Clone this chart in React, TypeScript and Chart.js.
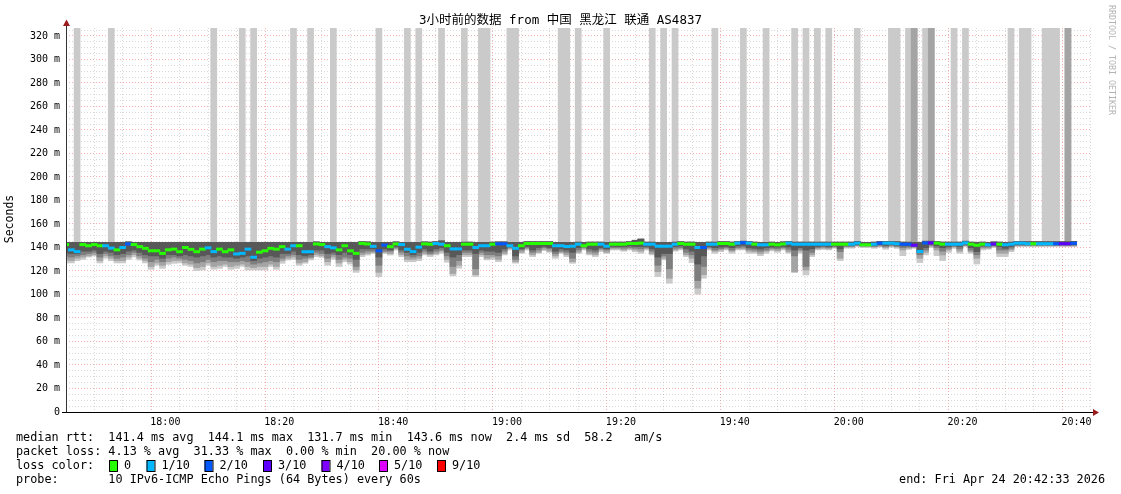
import React, { useEffect, useRef } from 'react';
import { Chart, registerables } from 'chart.js';

Chart.register(...registerables);

// x axis unit: minutes after 17:42:00. Window 17:42:33 .. 20:42:33 (3 hours)
const X_MIN = 0.55;
const X_MAX = 180.55;
const Y_MAX = 326.8;

const TITLE = '3小时前的数据 from 中国 黑龙江 联通 AS4837';

const xLabelMinutes = [18, 38, 58, 78, 98, 118, 138, 158, 178];
const xLabels = ['18:00', '18:20', '18:40', '19:00', '19:20', '19:40', '20:00', '20:20', '20:40'];
const yLabelValues = [0, 20, 40, 60, 80, 100, 120, 140, 160, 180, 200, 220, 240, 260, 280, 300, 320];
const yLabels = ['0', '20 m', '40 m', '60 m', '80 m', '100 m', '120 m', '140 m', '160 m', '180 m', '200 m', '220 m', '240 m', '260 m', '280 m', '300 m', '320 m'];

// median rtt per minute slot (ms)
const median = [
  142.5, 138, 136.5, 142.5, 141.5, 142.5, 141.5, 141.5, 139.5, 138,
  140, 143, 142.5, 140.7, 139.3, 137.2, 137.2, 135, 138, 138.6,
  136.4, 140, 138.4, 136.4, 138.6, 139.7, 136.5, 138.6, 136.4, 138,
  134.5, 135, 138.6, 131.7, 136, 137.2, 139.3, 138.6, 140.7, 138.6,
  141.5, 141.5, 136.4, 136.4, 143, 142.5, 140.7, 139.7, 138, 141.5,
  137.2, 135, 143.5, 143, 141, 137.2, 142, 140.7, 143, 142.5,
  138.5, 136.5, 140.3, 143.1, 142.8, 143.4, 142.8, 141.5, 138.8, 138.8,
  142.8, 142.8, 140, 141.5, 141.5, 142.8, 143.1, 143.1, 141.5, 139.3,
  141.5, 143.4, 143.4, 143.4, 143.4, 143.4, 141.5, 141.5, 140.8, 141.1,
  142.8, 141.5, 142.8, 142.8, 142.8, 141.1, 142.8, 142.8, 142.8, 143.4,
  143.4, 143.7, 142.8, 142.8, 141.1, 141.1, 141.1, 142.8, 143.4, 142.8,
  142.8, 140, 140, 142.8, 142.8, 143.4, 143.4, 142.8, 143.7, 144.1,
  143.7, 142.8, 142.3, 142.3, 142.8, 142.3, 143, 143.7, 142.8, 142.8,
  142.8, 142.8, 142.8, 142.8, 142.8, 142.8, 142.8, 142.8, 142.8, 143.7,
  142.3, 142.3, 142.8, 143.7, 143.7, 143.7, 143.2, 142.8, 142.8, 141.9,
  136.6, 143.9, 143.9, 143.7, 142.8, 142.8, 142.8, 142.8, 143.9, 142.8,
  141.9, 142.8, 142.3, 143, 142.8, 142.3, 142.8, 143.7, 143.7, 143.2,
  143.2, 143.2, 143.2, 143.2, 143.2, 143.2, 143.2, 143.6,
];

// lost pings out of 10 per slot
const loss = [
  0, 1, 1, 0, 0, 0, 0, 1, 1, 0,
  1, 2, 0, 0, 0, 0, 0, 0, 0, 0,
  0, 0, 0, 0, 0, 1, 1, 0, 0, 0,
  1, 1, 1, 1, 0, 0, 0, 0, 0, 1,
  1, 0, 1, 1, 0, 0, 1, 1, 0, 0,
  0, 0, 0, 0, 1, 2, 2, 0, 0, 1,
  1, 1, 1, 0, 0, 1, 1, 0, 1, 1,
  0, 0, 1, 1, 1, 0, 2, 2, 1, 1,
  0, 0, 0, 0, 0, 0, 1, 1, 1, 1,
  1, 0, 0, 0, 1, 1, 0, 0, 0, 0,
  0, 0, 1, 1, 1, 1, 1, 1, 0, 0,
  0, 1, 2, 1, 1, 0, 0, 0, 1, 2,
  1, 0, 1, 1, 0, 0, 0, 1, 1, 1,
  1, 1, 1, 1, 1, 0, 0, 0, 1, 1,
  0, 0, 1, 2, 1, 1, 1, 2, 2, 3,
  1, 2, 3, 0, 0, 1, 1, 1, 1, 0,
  0, 0, 1, 3, 0, 1, 1, 1, 1, 1,
  0, 1, 1, 1, 2, 3, 3, 2,
];

// pings beyond the graph top: 0 none, 1 slowest ping, 2 two slowest pings
const offScale = [
  0, 0, 1, 0, 0, 0, 0, 0, 1, 0,
  0, 0, 0, 0, 0, 0, 0, 0, 0, 0,
  0, 0, 0, 0, 0, 0, 1, 0, 0, 0,
  0, 1, 0, 1, 0, 0, 0, 0, 0, 0,
  1, 0, 0, 1, 0, 0, 0, 1, 0, 0,
  0, 0, 0, 0, 0, 1, 0, 0, 0, 0,
  1, 0, 1, 0, 0, 0, 1, 0, 0, 0,
  1, 0, 0, 1, 1, 0, 0, 0, 1, 1,
  0, 0, 0, 0, 0, 0, 0, 1, 1, 0,
  1, 0, 0, 0, 0, 1, 0, 0, 0, 0,
  0, 0, 0, 1, 0, 1, 0, 1, 0, 0,
  0, 0, 0, 0, 1, 0, 0, 0, 0, 1,
  0, 0, 0, 1, 0, 0, 0, 0, 1, 0,
  1, 0, 1, 0, 1, 0, 0, 0, 0, 1,
  0, 0, 0, 0, 0, 1, 1, 0, 1, 2,
  0, 1, 2, 0, 0, 0, 1, 0, 1, 0,
  0, 0, 0, 0, 0, 0, 1, 0, 1, 1,
  0, 0, 1, 1, 1, 0, 2, 0,
];

// slowest ping (top of smoke)
const smokeTop = [
  144.2, 144.2, 144.2, 144.2, 144.2, 144.2, 144.2, 144.2, 144.2, 144.2,
  144.2, 144.6, 144.2, 144.2, 144.2, 144.2, 144.2, 144.2, 144.2, 144.2,
  144.2, 144.2, 144.2, 144.2, 144.2, 144.2, 144.2, 144.2, 144.2, 144.2,
  144.2, 144.2, 144.2, 144.2, 144.2, 144.2, 144.2, 144.2, 144.2, 144.2,
  144.2, 144.2, 144.2, 144.2, 144.6, 144.2, 144.2, 144.2, 144.2, 144.2,
  144.2, 144.2, 144.8, 144.6, 144.2, 144.2, 144.2, 144.2, 144.6, 144.2,
  144.2, 144.2, 144.2, 144.6, 144.4, 144.8, 145.5, 144.2, 144.2, 144.2,
  144.4, 144.4, 144.2, 144.2, 144.2, 144.4, 144.6, 144.6, 144.2, 144.2,
  144.2, 144.8, 144.8, 144.8, 144.8, 144.8, 144.2, 144.2, 144.2, 144.2,
  144.4, 144.2, 144.4, 144.4, 144.4, 144.2, 144.4, 144.4, 144.4, 144.8,
  146, 147, 144.4, 144.4, 144.2, 144.2, 144.2, 144.4, 144.8, 144.4,
  144.4, 144.2, 144.2, 144.4, 144.4, 144.8, 144.8, 144.4, 145, 145.2,
  145, 144.4, 144.2, 144.2, 144.4, 144.2, 144.6, 145, 144.4, 144.4,
  144.4, 144.4, 144.4, 144.4, 144.4, 144.4, 144.4, 144.4, 144.4, 145,
  144.2, 144.2, 144.4, 145, 145, 145, 144.8, 144.4, 144.4, 144.2,
  144.2, 145.2, 145.2, 145, 144.4, 144.4, 144.4, 144.4, 145.2, 144.4,
  144.2, 144.4, 144.2, 144.6, 144.4, 144.2, 144.4, 145, 145, 144.8,
  144.8, 144.8, 144.8, 144.8, 144.8, 144.8, 144.8, 145,
];

// fastest ping (bottom of lightest smoke)
const smokeLo = [
  127, 127, 129, 130, 132, 133, 127, 131, 129, 127,
  127, 130, 132, 129.5, 127, 121.6, 125, 122.4, 125.8, 126.7,
  127, 125, 124, 120.5, 121, 125, 121.6, 122.4, 124, 121.6,
  122.4, 124, 121, 121, 121, 121, 124, 121.6, 126.7, 129.5,
  130, 125, 126.7, 129.5, 132.3, 131.7, 125, 130, 124, 128,
  126, 119, 132.3, 133.7, 135, 115.3, 135, 133.7, 138, 132.3,
  128, 128, 129, 133.8, 132.4, 133.8, 135.2, 127.6, 116, 122.5,
  132.4, 132.4, 115.4, 132.4, 129.5, 130, 128.1, 133.8, 138, 126.7,
  135.2, 138, 132.4, 135.2, 137.5, 136, 131, 135.2, 132.4, 126.7,
  135.2, 138, 133.8, 132.4, 136.6, 135.2, 138, 138, 137, 138,
  136.5, 135.2, 138, 133.8, 115.4, 129.5, 109.7, 137, 138, 132.4,
  127.3, 100.4, 114, 138, 135.2, 136.6, 138, 135.2, 138, 138,
  135.2, 135.2, 133.2, 135.2, 137.2, 136, 138, 135.2, 118.8, 135.2,
  116.8, 132.4, 138, 138.5, 138, 139.4, 129, 139.5, 139.5, 141,
  140, 140, 139.4, 140.5, 138.6, 140.5, 139.4, 133.2, 138.6, 139.4,
  127.3, 133.8, 140, 133.2, 129, 136, 139.4, 135.2, 141, 135.2,
  126.1, 138, 138.6, 140, 132.4, 132.4, 136.6, 141, 141, 141,
  141, 141, 141, 141, 141, 141, 141, 141,
];

// second fastest ping
const smokeMid = [
  130, 129, 131, 132, 133, 134, 129, 133, 131, 129,
  129, 132, 134, 131, 129, 124, 127, 125, 128, 129,
  129, 127, 126, 123, 124, 127, 124, 125, 126, 124,
  125, 126, 124, 123, 124, 124, 126, 124, 129, 131,
  132, 127, 128, 131, 134, 133, 128, 132, 127, 130,
  128, 121, 134, 135, 136, 119, 136, 135, 139, 134,
  130, 130, 131, 135, 134, 135, 137, 130, 118, 125,
  134, 134, 117, 134, 131, 132, 130, 135, 139, 128,
  136, 139, 134, 136, 138.5, 137, 133, 136, 134, 128,
  136, 139, 135, 134, 138, 136, 139, 139, 138, 139,
  138, 137, 139, 135, 119.6, 131, 114, 138, 139, 134,
  131, 105.5, 117, 139, 137, 138, 139, 137, 139, 139,
  137, 136.5, 135, 137, 138.5, 137.5, 139, 136.5, 119.6, 137,
  121, 134, 139, 139.5, 139, 140, 131, 140.5, 140.5, 141.5,
  141, 141, 140.5, 141, 140, 141, 140.5, 138, 139.5, 140,
  131, 136, 141, 138, 133.8, 138, 140.5, 137, 141.5, 136.5,
  131, 139.5, 139.5, 141, 135.2, 135.2, 138, 141.5, 141.5, 141.5,
  141.5, 141.5, 141.5, 141.5, 141.5, 141.5, 141.5, 141.5,
];

// third fastest ping
const smokeDark = [
  133, 132, 133, 134, 135, 136, 132, 135, 133, 131,
  132, 134, 136, 133, 131, 128, 130, 128, 131, 132,
  131, 130, 129, 127, 128, 130, 128, 129, 129, 128,
  128, 129, 128, 126, 127, 128, 129, 128, 131, 133,
  134, 130, 131, 132, 136, 135, 131, 134, 130, 132,
  131, 124, 136, 137, 137, 125, 137, 137, 140, 136,
  133, 132, 133, 137, 135, 137, 138, 133, 124, 129,
  136, 136, 122, 136, 134, 134, 133, 137, 140, 130,
  138, 140, 136, 138, 140, 139, 135, 137, 136, 131,
  138, 140, 137, 136, 139, 138, 140, 140, 139.5, 140,
  139.5, 139, 140, 137, 125, 133, 122, 139.5, 140, 136,
  134, 112, 124, 140, 138, 139, 140, 138, 140, 140.5,
  138.5, 138, 137, 138, 139.5, 139, 140, 138.5, 133, 138.5,
  124, 136, 140, 140.5, 140, 141, 136.6, 141, 141, 142,
  141.5, 141.5, 141, 142, 141, 142, 141, 140, 140.5, 141,
  134, 138, 142, 140, 137, 139.5, 141, 139, 142, 138,
  134, 140.5, 140.5, 141.5, 138, 138, 139.5, 142, 142, 142,
  142, 142, 142, 142, 142, 142, 142, 142,
];

// fourth fastest ping (bottom of the dark core)
const smokeCore = [
  136, 135, 135, 137, 137, 138, 135, 137, 136, 134,
  135, 137, 138, 136, 134, 133, 133, 131, 134, 134,
  133, 134, 133, 132, 133, 134, 132, 133, 132, 132,
  131, 132, 133, 129, 131, 132, 133, 132, 135, 135,
  137, 134, 133, 134, 138, 138, 135, 136, 134, 136,
  134, 130, 139, 139, 139, 132, 139, 138, 141, 138,
  136, 134, 136, 139, 137, 139, 140, 136, 132, 134,
  138, 138, 135, 138, 137, 137, 136, 139, 141, 133,
  139, 141, 138, 140, 141, 140, 137, 139, 138, 136,
  140, 141, 139, 138, 140, 139, 141, 141, 141, 141.5,
  141, 141, 141, 139, 132, 135, 135, 141, 141.5, 139,
  137, 126, 133, 141, 140, 140.5, 141, 140, 141.5, 142,
  140, 139.5, 139, 140, 140.5, 140.5, 141, 140.5, 138, 140,
  138, 139, 141, 141.5, 141, 141.5, 139, 142, 142, 142.5,
  142, 142, 142, 142.5, 142, 142.5, 142, 141.5, 141.5, 141.5,
  136, 140, 143, 141.5, 140, 141, 142, 141, 143, 140,
  136.6, 141.5, 141.5, 142, 140.9, 139.4, 141, 142.5, 142.5, 142.5,
  142.5, 142.5, 142.5, 142.5, 142.5, 142.5, 142.5, 142.5,
];

const lossColorMap: Record<number, string> = {
  0: '#26ff00', 1: '#00b8ff', 2: '#0059ff', 3: '#5e00ff', 4: '#7e00ff', 5: '#dd00ff', 9: '#ff0000',
};
const legendLabels = ['0', '1/10', '2/10', '3/10', '4/10', '5/10', '9/10'];
const legendColors = ['#26ff00', '#00b8ff', '#0059ff', '#5e00ff', '#7e00ff', '#dd00ff', '#ff0000'];

const statLines = [
  'median rtt:  141.4 ms avg  144.1 ms max  131.7 ms min  143.6 ms now  2.4 ms sd  58.2   am/s',
  'packet loss: 4.13 % avg  31.33 % max  0.00 % min  20.00 % now',
];
const probeLine = 'probe:       10 IPv6-ICMP Echo Pings (64 Bytes) every 60s';
const endLine = 'end: Fri Apr 24 20:42:33 2026';

const MONO = '"DejaVu Sans Mono", monospace';

function lossColor(l: number): string {
  if (lossColorMap[l]) return lossColorMap[l];
  if (l >= 9) return lossColorMap[9];
  return lossColorMap[5];
}

const textPlugin = {
  id: 'rrdText',
  afterDraw(chart: any) {
    const ctx = chart.ctx as CanvasRenderingContext2D;
    const ca = chart.chartArea;
    ctx.save();
    // axes
    ctx.lineWidth = 1;
    ctx.strokeStyle = '#333';
    ctx.beginPath();
    ctx.moveTo(ca.left + 0.5, ca.bottom);
    ctx.lineTo(ca.left + 0.5, ca.top - 3);
    ctx.stroke();
    ctx.strokeStyle = '#000';
    ctx.beginPath();
    ctx.moveTo(ca.left - 4, ca.bottom + 0.5);
    ctx.lineTo(ca.right + 3, ca.bottom + 0.5);
    ctx.stroke();
    ctx.fillStyle = '#9b1c1c';
    ctx.beginPath();
    ctx.moveTo(ca.left + 0.5, ca.top - 8.5);
    ctx.lineTo(ca.left - 3, ca.top - 2);
    ctx.lineTo(ca.left + 4, ca.top - 2);
    ctx.closePath();
    ctx.fill();
    ctx.beginPath();
    ctx.moveTo(ca.right + 8, ca.bottom + 0.5);
    ctx.lineTo(ca.right + 2, ca.bottom - 3);
    ctx.lineTo(ca.right + 2, ca.bottom + 4);
    ctx.closePath();
    ctx.fill();

    // title
    ctx.fillStyle = '#000';
    ctx.textBaseline = 'middle';
    ctx.textAlign = 'center';
    ctx.font = `12.5px "DejaVu Sans Mono", "Noto Sans CJK SC", sans-serif`;
    ctx.fillText(TITLE, 560.5, 21);

    // y title
    ctx.save();
    ctx.translate(10.5, 219);
    ctx.rotate(-Math.PI / 2);
    ctx.font = `11.5px ${MONO}`;
    ctx.fillText('Seconds', 0, 0);
    ctx.restore();

    // watermark
    ctx.save();
    ctx.translate(1111.5, 5);
    ctx.rotate(Math.PI / 2);
    ctx.textAlign = 'left';
    ctx.font = `8.3px ${MONO}`;
    ctx.fillStyle = '#b4b4b4';
    ctx.fillText('RRDTOOL / TOBI OETIKER', 0, 0);
    ctx.restore();

    // legend
    ctx.textAlign = 'left';
    ctx.font = `11.8px ${MONO}`;
    ctx.fillStyle = '#000';
    ctx.fillText(statLines[0], 16, 437.5);
    ctx.fillText(statLines[1], 16, 451.5);
    ctx.fillText('loss color:', 16, 465.5);
    const boxX = [109, 146.5, 204.5, 263, 321.5, 379, 437];
    legendLabels.forEach((lab, i) => {
      const x = boxX[i];
      ctx.fillStyle = legendColors[i];
      ctx.fillRect(x, 460, 8, 11);
      ctx.strokeStyle = '#000';
      ctx.lineWidth = 1;
      ctx.strokeRect(x + 0.5, 460.5, 8, 11);
      ctx.fillStyle = '#000';
      ctx.fillText(lab, x + 15, 465.5);
    });
    ctx.fillText(probeLine, 16, 479.5);
    ctx.textAlign = 'right';
    ctx.fillText(endLine, 1105, 479.5);
    ctx.restore();
  },
};

export default function App() {
  const ref = useRef<HTMLCanvasElement | null>(null);

  useEffect(() => {
    if (!ref.current) return;
    const pts = (lo: number[], hi: (j: number) => number) =>
      lo.map((v, j) => ({ x: j + 0.5, y: [v, hi(j)] }));

    const xTicks: number[] = [];
    for (let m = 3; m <= 180; m += 5) xTicks.push(m);
    const yTicks: number[] = [];
    for (let v = 0; v <= 325; v += 5) yTicks.push(v);

    const majorRed = 'rgba(230,80,80,0.45)';
    const minorGray = 'rgba(160,160,160,0.4)';

    const chart = new Chart(ref.current, {
      type: 'bar',
      data: {
        datasets: [
          {
            label: 'median',
            data: median.map((m, j) => ({ x: j + 0.5, y: [m - 0.85, m + 0.85] })),
            backgroundColor: median.map((_, j) => lossColor(loss[j])),
            order: 0,
          },
          {
            label: 'core',
            data: pts(smokeCore, (j) => smokeTop[j]),
            backgroundColor: '#585858',
            order: 1,
          },
          {
            label: 'dark',
            data: pts(smokeDark, (j) => smokeTop[j]),
            backgroundColor: '#7e7e7e',
            order: 2,
          },
          {
            label: 'mid',
            data: pts(smokeMid, (j) => (offScale[j] >= 2 ? Y_MAX : smokeTop[j])),
            backgroundColor: '#a4a4a4',
            order: 3,
          },
          {
            label: 'lo',
            data: pts(smokeLo, (j) => (offScale[j] >= 1 ? Y_MAX : smokeTop[j])),
            backgroundColor: '#cacaca',
            order: 4,
          },
        ] as any,
      },
      options: {
        responsive: false,
        animation: false,
        devicePixelRatio: 1,
        layout: { padding: { left: 0, top: 28, right: 30, bottom: 62 } },
        plugins: {
          legend: { display: false },
          tooltip: { enabled: false },
          title: { display: false },
        },
        datasets: {
          bar: {
            grouped: false,
            barPercentage: 1,
            categoryPercentage: 1,
            borderWidth: 0,
            inflateAmount: 0.5,
          },
        },
        scales: {
          x: {
            type: 'linear',
            min: X_MIN,
            max: X_MAX,
            offset: false,
            afterBuildTicks: (s: any) => {
              s.ticks = xTicks.map((v) => ({ value: v }));
            },
            afterFit: (s: any) => {
              s.height = 20;
            },
            ticks: {
              autoSkip: false,
              maxRotation: 0,
              padding: 4,
              color: '#000',
              font: { family: MONO, size: 10 },
              callback: (v: any) => {
                const k = xLabelMinutes.indexOf(Number(v));
                return k >= 0 ? xLabels[k] : '';
              },
            },
            grid: {
              drawTicks: false,
              lineWidth: 1,
              color: (c: any) =>
                c.tick && xLabelMinutes.indexOf(c.tick.value) >= 0 ? majorRed : minorGray,
            },
            border: { display: false, dash: [1, 2] },
          },
          y: {
            type: 'linear',
            min: 0,
            max: Y_MAX,
            afterBuildTicks: (s: any) => {
              s.ticks = yTicks.map((v) => ({ value: v }));
            },
            afterFit: (s: any) => {
              s.width = 66;
            },
            ticks: {
              autoSkip: false,
              padding: 6,
              color: '#000',
              font: { family: MONO, size: 10 },
              callback: (v: any) => {
                const k = yLabelValues.indexOf(Number(v));
                return k >= 0 ? yLabels[k] : '';
              },
            },
            grid: {
              drawTicks: false,
              lineWidth: 1,
              color: (c: any) =>
                c.tick && c.tick.value > 0 && c.tick.value % 20 === 0 ? majorRed : minorGray,
            },
            border: { display: false, dash: [1, 2] },
          },
        },
      } as any,
      plugins: [textPlugin],
    });
    return () => chart.destroy();
  }, []);

  return (
    <div style={{ position: 'fixed', left: 0, top: 0, width: 1121, height: 494, background: '#fff' }}>
      <canvas ref={ref} width={1121} height={494} style={{ display: 'block' }} />
    </div>
  );
}
